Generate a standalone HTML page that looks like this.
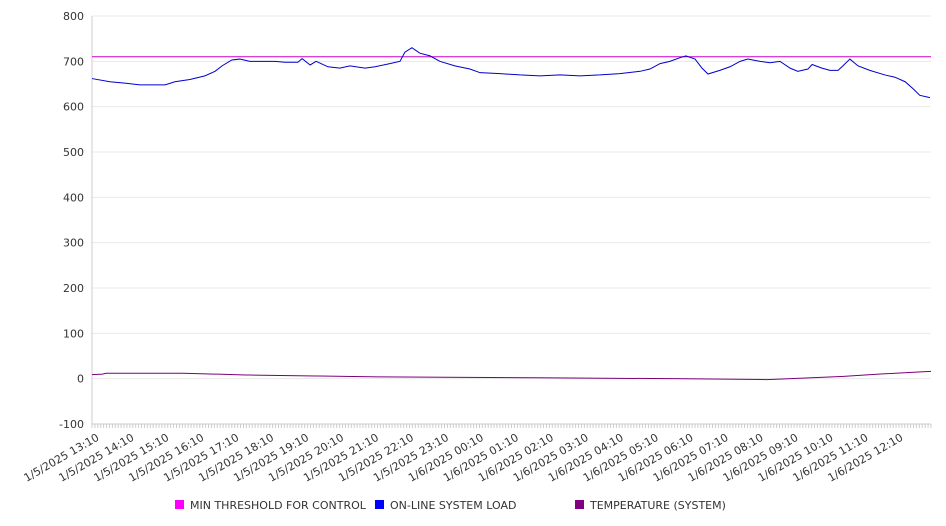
<!DOCTYPE html>
<html><head><meta charset="utf-8"><style>
html,body{margin:0;padding:0;background:#fff;}
svg{display:block;font-family:"DejaVu Sans","Liberation Sans",sans-serif;}
</style></head><body>
<svg id="chart" width="946" height="526" viewBox="0 0 946 526">
<g id="grid"></g>
<g id="yaxis"></g>
<g id="xaxis"></g>
<g id="series"></g>
<g id="legend"></g>
</svg>
<script>
const yTicks=[800,700,600,500,400,300,200,100,0,-100];
const xLabels=["1/5/2025 13:10","1/5/2025 14:10","1/5/2025 15:10","1/5/2025 16:10","1/5/2025 17:10","1/5/2025 18:10","1/5/2025 19:10","1/5/2025 20:10","1/5/2025 21:10","1/5/2025 22:10","1/5/2025 23:10","1/6/2025 00:10","1/6/2025 01:10","1/6/2025 02:10","1/6/2025 03:10","1/6/2025 04:10","1/6/2025 05:10","1/6/2025 06:10","1/6/2025 07:10","1/6/2025 08:10","1/6/2025 09:10","1/6/2025 10:10","1/6/2025 11:10","1/6/2025 12:10"];
const thresholdValue=710;
const loadHours=[0,0.51,0.94,1.37,2.09,2.37,2.80,3.23,3.52,3.72,4.00,4.23,4.52,5.23,5.52,5.89,6.01,6.24,6.41,6.75,7.09,7.38,7.81,8.10,8.52,8.81,8.95,9.15,9.38,9.67,9.95,10.38,10.81,11.10,11.67,12.24,12.81,13.39,13.96,14.53,15.10,15.68,15.96,16.25,16.53,16.82,16.99,17.25,17.45,17.62,17.96,18.25,18.54,18.76,19.11,19.39,19.68,19.97,20.19,20.48,20.60,20.88,21.11,21.34,21.48,21.68,21.91,22.25,22.68,22.97,23.26,23.48,23.68,23.97];
const loadValues=[662,655,652,648,648,655,660,668,678,690,703,705,700,700,698,698,706,692,700,688,685,690,685,688,695,700,720,730,718,712,700,690,683,675,673,670,668,670,668,670,673,678,683,695,700,708,712,705,685,672,680,688,700,705,700,697,700,685,678,683,693,685,680,680,690,705,690,680,670,665,655,640,625,620];
const tempHours=[0,0.3,0.4,2.6,3.5,3.6,4.4,4.5,6.4,6.5,8.2,8.3,12.6,12.7,16.5,16.6,19.3,20.0,21.5,22.5,23.7,24];
const tempValues=[9,10,12,12,10,10,8,8,6,6,4,4,2,2,0,0,-2,0,5,10,15,16];

const NS="http://www.w3.org/2000/svg";
const X0=92,X1=931,Y0=424,Y1=16,vmin=-100,vmax=800,HMAX=24;
const xs=h=>X0+h/HMAX*(X1-X0);
const ys=v=>Y0-(v-vmin)/(vmax-vmin)*(Y0-Y1);
function mk(tag,attrs,parent){const e=document.createElementNS(NS,tag);for(const k in attrs)e.setAttribute(k,attrs[k]);parent.appendChild(e);return e;}
const grid=document.getElementById('grid'),ya=document.getElementById('yaxis'),xa=document.getElementById('xaxis'),ser=document.getElementById('series'),leg=document.getElementById('legend');
yTicks.forEach(t=>{
  const l=mk('line',{x1:X0,x2:X1,y1:ys(t),y2:ys(t),stroke:'#e8e8e8','stroke-width':1},grid);
  
  
  const tx=mk('text',{x:84,y:ys(t)+4,'text-anchor':'end','font-size':11,fill:'#333'},ya);
  tx.textContent=t;
  
  
});
const ax=mk('line',{x1:X0,x2:X0,y1:Y1,y2:Y0,stroke:'#ccc'},ya);


const bx=mk('line',{x1:X0,x2:X1,y1:Y0,y2:Y0,stroke:'#ccc'},xa);


for(let i=0;i<=288;i++){const x=X0+i*(X1-X0)/288;const t=mk('line',{x1:x,x2:x,y1:Y0,y2:Y0+4,stroke:'#ccc'},xa);
  
  }
xLabels.forEach((s,i)=>{const x=xs(i)+4,y=Y0+9;
  const t=mk('text',{x:x,y:y,'text-anchor':'end','font-size':11,fill:'#333',transform:`rotate(-30 ${x} ${y})`,dy:'0.7em'},xa);
  t.textContent=s;
  
  });
const th=mk('line',{x1:X0,x2:X1,y1:ys(thresholdValue),y2:ys(thresholdValue),stroke:'#cc00cc','stroke-width':1},ser);


const lp=mk('polyline',{points:loadHours.map((h,i)=>xs(h)+','+ys(loadValues[i])).join(' '),fill:'none',stroke:'#0000cc','stroke-width':1},ser);


const tp=mk('polyline',{points:tempHours.map((h,i)=>xs(h)+','+ys(tempValues[i])).join(' '),fill:'none',stroke:'#7a007a','stroke-width':1},ser);


[["MIN THRESHOLD FOR CONTROL","#ff00ff",175],["ON-LINE SYSTEM LOAD","#0000ff",375],["TEMPERATURE (SYSTEM)","#800080",575]].forEach(d=>{
  const g=mk('g',{},leg);
  
  
  mk('rect',{x:d[2],y:500,width:9,height:9,fill:d[1]},g);
  const t=mk('text',{x:d[2]+15,y:509,'font-size':11,fill:'#333'},g);t.textContent=d[0];
});
</script>
</body></html>
